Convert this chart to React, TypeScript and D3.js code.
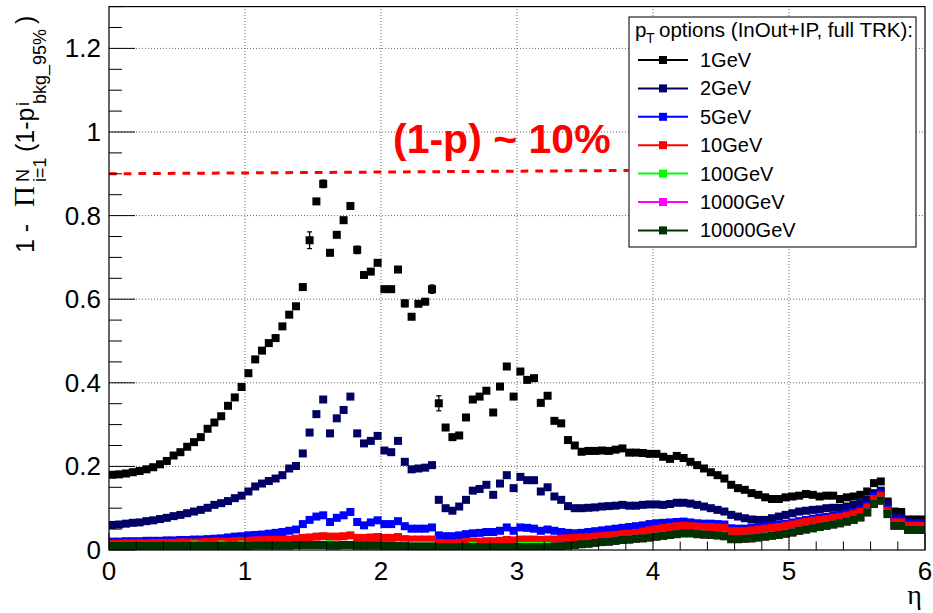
import React from 'react';
import * as d3 from 'd3';

// ---------- data ----------
const BIN_EDGES = d3.range(0, 121).map((i) => i * 0.05); // 120 bins on eta 0..6
const etaCenters = BIN_EDGES.slice(0, 120).map((e, i) => (e + BIN_EDGES[i + 1]) / 2);

const pt1GeV = [
  0.180, 0.181, 0.183, 0.186, 0.189, 0.193, 0.198, 0.205, 0.213, 0.226,
  0.234, 0.247, 0.258, 0.270, 0.290, 0.305, 0.320, 0.345, 0.365, 0.390,
  0.423, 0.456, 0.477, 0.495, 0.507, 0.535, 0.563, 0.583, 0.629, 0.741,
  0.834, 0.876, 0.711, 0.754, 0.789, 0.823, 0.718, 0.658, 0.666, 0.687,
  0.624, 0.624, 0.671, 0.590, 0.558, 0.589, 0.594, 0.624, 0.351, 0.293,
  0.270, 0.274, 0.317, 0.360, 0.367, 0.381, 0.329, 0.391, 0.439, 0.367,
  0.427, 0.407, 0.411, 0.352, 0.369, 0.309, 0.303, 0.263, 0.250, 0.235,
  0.237, 0.237, 0.238, 0.237, 0.240, 0.243, 0.233, 0.233, 0.232, 0.230,
  0.230, 0.223, 0.218, 0.225, 0.220, 0.211, 0.203, 0.195, 0.186, 0.179,
  0.171, 0.156, 0.148, 0.144, 0.136, 0.132, 0.126, 0.122, 0.122, 0.126,
  0.128, 0.130, 0.134, 0.132, 0.128, 0.130, 0.130, 0.122, 0.126, 0.128,
  0.132, 0.140, 0.160, 0.164, 0.116, 0.092, 0.091, 0.073, 0.073, 0.073,
];
const pt1GeVErr = [
  0, 0, 0, 0, 0, 0, 0, 0, 0, 0,
  0, 0, 0, 0, 0, 0, 0, 0, 0, 0,
  0, 0, 0, 0, 0, 0, 0, 0, 0, 0.02,
  0, 0.009, 0, 0, 0, 0, 0.009, 0, 0, 0,
  0, 0, 0, 0.008, 0, 0, 0, 0.01, 0.018, 0,
  0, 0, 0, 0, 0, 0.004, 0, 0, 0, 0,
  0.006, 0.004, 0, 0, 0, 0, 0, 0, 0, 0,
  0, 0, 0, 0, 0, 0, 0, 0, 0, 0,
  0, 0, 0, 0, 0, 0, 0, 0, 0, 0,
  0, 0, 0, 0, 0, 0, 0, 0, 0, 0,
  0, 0, 0, 0, 0, 0, 0, 0, 0, 0,
  0, 0, 0, 0, 0, 0, 0, 0, 0, 0,
];
const pt2GeV = [
  0.060, 0.061, 0.063, 0.065, 0.066, 0.069, 0.071, 0.074, 0.077, 0.081,
  0.084, 0.088, 0.092, 0.096, 0.101, 0.108, 0.112, 0.117, 0.124, 0.130,
  0.140, 0.152, 0.159, 0.165, 0.171, 0.179, 0.195, 0.201, 0.231, 0.281,
  0.325, 0.360, 0.279, 0.315, 0.335, 0.367, 0.279, 0.255, 0.261, 0.273,
  0.238, 0.234, 0.261, 0.211, 0.193, 0.195, 0.197, 0.203, 0.120, 0.100,
  0.094, 0.104, 0.120, 0.142, 0.146, 0.156, 0.132, 0.159, 0.179, 0.148,
  0.175, 0.167, 0.167, 0.140, 0.150, 0.128, 0.120, 0.105, 0.100, 0.100,
  0.101, 0.102, 0.104, 0.105, 0.106, 0.108, 0.106, 0.106, 0.108, 0.109,
  0.109, 0.108, 0.110, 0.113, 0.113, 0.111, 0.108, 0.104, 0.100, 0.096,
  0.092, 0.084, 0.080, 0.076, 0.073, 0.072, 0.072, 0.076, 0.080, 0.084,
  0.088, 0.092, 0.094, 0.096, 0.097, 0.100, 0.101, 0.101, 0.104, 0.108,
  0.113, 0.121, 0.136, 0.142, 0.112, 0.080, 0.078, 0.068, 0.065, 0.065,
];
const pt5GeV = [
  0.020, 0.020, 0.021, 0.021, 0.021, 0.022, 0.022, 0.022, 0.023, 0.023,
  0.024, 0.024, 0.025, 0.025, 0.026, 0.027, 0.028, 0.030, 0.032, 0.033,
  0.035, 0.036, 0.037, 0.039, 0.041, 0.043, 0.046, 0.049, 0.062, 0.072,
  0.080, 0.083, 0.067, 0.077, 0.083, 0.091, 0.067, 0.059, 0.066, 0.071,
  0.062, 0.062, 0.069, 0.057, 0.051, 0.051, 0.051, 0.054, 0.035, 0.033,
  0.033, 0.035, 0.038, 0.040, 0.041, 0.043, 0.043, 0.046, 0.054, 0.046,
  0.054, 0.053, 0.051, 0.046, 0.049, 0.046, 0.043, 0.041, 0.040, 0.041,
  0.043, 0.045, 0.047, 0.049, 0.051, 0.053, 0.055, 0.057, 0.059, 0.062,
  0.064, 0.065, 0.066, 0.067, 0.068, 0.066, 0.064, 0.063, 0.063, 0.062,
  0.061, 0.052, 0.051, 0.051, 0.053, 0.055, 0.057, 0.059, 0.061, 0.063,
  0.066, 0.069, 0.072, 0.075, 0.077, 0.079, 0.082, 0.084, 0.087, 0.091,
  0.096, 0.107, 0.128, 0.136, 0.099, 0.071, 0.071, 0.063, 0.063, 0.063,
];
const pt10GeV = [
  0.015, 0.015, 0.016, 0.016, 0.016, 0.016, 0.017, 0.017, 0.017, 0.017,
  0.018, 0.018, 0.018, 0.018, 0.019, 0.020, 0.020, 0.020, 0.021, 0.022,
  0.022, 0.023, 0.023, 0.024, 0.024, 0.024, 0.025, 0.027, 0.029, 0.030,
  0.032, 0.033, 0.032, 0.032, 0.033, 0.035, 0.029, 0.029, 0.030, 0.031,
  0.029, 0.029, 0.031, 0.026, 0.025, 0.025, 0.025, 0.025, 0.017, 0.016,
  0.016, 0.017, 0.019, 0.020, 0.020, 0.021, 0.021, 0.022, 0.024, 0.023,
  0.025, 0.025, 0.025, 0.024, 0.025, 0.025, 0.027, 0.028, 0.029, 0.030,
  0.031, 0.032, 0.033, 0.035, 0.036, 0.038, 0.039, 0.041, 0.044, 0.047,
  0.050, 0.053, 0.055, 0.057, 0.058, 0.057, 0.056, 0.055, 0.055, 0.054,
  0.053, 0.045, 0.045, 0.045, 0.047, 0.049, 0.051, 0.053, 0.055, 0.058,
  0.061, 0.064, 0.067, 0.070, 0.072, 0.074, 0.077, 0.079, 0.082, 0.086,
  0.091, 0.102, 0.122, 0.130, 0.094, 0.066, 0.066, 0.058, 0.058, 0.058,
];
const pt100GeV = [
  0.010, 0.010, 0.010, 0.010, 0.010, 0.010, 0.010, 0.010, 0.010, 0.010,
  0.010, 0.010, 0.013, 0.010, 0.010, 0.010, 0.013, 0.010, 0.010, 0.013,
  0.010, 0.011, 0.011, 0.011, 0.011, 0.011, 0.011, 0.012, 0.012, 0.012,
  0.012, 0.012, 0.014, 0.011, 0.012, 0.012, 0.011, 0.011, 0.011, 0.011,
  0.010, 0.010, 0.010, 0.011, 0.011, 0.011, 0.011, 0.011, 0.007, 0.007,
  0.007, 0.007, 0.007, 0.010, 0.007, 0.007, 0.007, 0.007, 0.007, 0.007,
  0.010, 0.010, 0.010, 0.010, 0.010, 0.008, 0.009, 0.011, 0.012, 0.014,
  0.015, 0.017, 0.019, 0.020, 0.022, 0.024, 0.025, 0.027, 0.028, 0.030,
  0.032, 0.034, 0.036, 0.038, 0.040, 0.040, 0.038, 0.037, 0.036, 0.035,
  0.033, 0.026, 0.026, 0.027, 0.028, 0.030, 0.032, 0.034, 0.036, 0.039,
  0.042, 0.046, 0.049, 0.052, 0.055, 0.058, 0.061, 0.064, 0.068, 0.072,
  0.078, 0.090, 0.110, 0.118, 0.086, 0.058, 0.058, 0.048, 0.048, 0.048,
];
const pt1000GeV = [
  0.010, 0.010, 0.010, 0.010, 0.010, 0.010, 0.010, 0.010, 0.010, 0.010,
  0.010, 0.010, 0.010, 0.012, 0.010, 0.010, 0.010, 0.010, 0.010, 0.010,
  0.010, 0.011, 0.011, 0.011, 0.011, 0.011, 0.011, 0.012, 0.012, 0.012,
  0.012, 0.012, 0.011, 0.011, 0.012, 0.012, 0.011, 0.011, 0.011, 0.011,
  0.010, 0.010, 0.010, 0.009, 0.008, 0.008, 0.008, 0.008, 0.007, 0.007,
  0.007, 0.007, 0.007, 0.007, 0.007, 0.007, 0.007, 0.007, 0.007, 0.007,
  0.007, 0.007, 0.007, 0.007, 0.007, 0.008, 0.009, 0.011, 0.012, 0.014,
  0.015, 0.017, 0.019, 0.020, 0.022, 0.024, 0.025, 0.027, 0.028, 0.030,
  0.032, 0.034, 0.036, 0.038, 0.040, 0.040, 0.038, 0.037, 0.036, 0.035,
  0.033, 0.026, 0.026, 0.027, 0.028, 0.030, 0.032, 0.034, 0.036, 0.039,
  0.042, 0.046, 0.049, 0.052, 0.055, 0.058, 0.061, 0.064, 0.068, 0.072,
  0.078, 0.090, 0.110, 0.118, 0.086, 0.058, 0.058, 0.048, 0.048, 0.048,
];
const pt10000GeV = [
  0.010, 0.010, 0.010, 0.010, 0.010, 0.010, 0.010, 0.010, 0.010, 0.010,
  0.010, 0.010, 0.010, 0.010, 0.010, 0.010, 0.010, 0.010, 0.010, 0.010,
  0.010, 0.011, 0.011, 0.011, 0.011, 0.011, 0.011, 0.012, 0.012, 0.012,
  0.012, 0.012, 0.011, 0.011, 0.012, 0.012, 0.011, 0.011, 0.011, 0.011,
  0.010, 0.010, 0.010, 0.009, 0.008, 0.008, 0.008, 0.008, 0.007, 0.007,
  0.007, 0.007, 0.007, 0.007, 0.007, 0.007, 0.007, 0.007, 0.007, 0.007,
  0.007, 0.007, 0.007, 0.007, 0.007, 0.008, 0.009, 0.011, 0.012, 0.014,
  0.015, 0.017, 0.019, 0.020, 0.022, 0.024, 0.025, 0.027, 0.028, 0.030,
  0.032, 0.034, 0.036, 0.038, 0.040, 0.040, 0.038, 0.037, 0.036, 0.035,
  0.033, 0.026, 0.026, 0.027, 0.028, 0.030, 0.032, 0.034, 0.036, 0.039,
  0.042, 0.046, 0.049, 0.052, 0.055, 0.058, 0.061, 0.064, 0.068, 0.072,
  0.078, 0.090, 0.110, 0.118, 0.086, 0.058, 0.058, 0.048, 0.048, 0.048,
];

const seriesLabels = ['1GeV', '2GeV', '5GeV', '10GeV', '100GeV', '1000GeV', '10000GeV'];
const seriesValues = [pt1GeV, pt2GeV, pt5GeV, pt10GeV, pt100GeV, pt1000GeV, pt10000GeV];
const seriesColors = ['#000000', '#000066', '#0000ff', '#ff0000', '#00ff00', '#ff00ff', '#003300'];

const xTicksMajor = [0, 1, 2, 3, 4, 5, 6];
const yTicksMajor = [0, 0.2, 0.4, 0.6, 0.8, 1, 1.2];
const yTickLabels = ['0', '0.2', '0.4', '0.6', '0.8', '1', '1.2'];
const thresholdEta = [0, 3.82];
const thresholdVal = [0.9, 0.908];
const legendHeader = 'options (InOut+IP, full TRK):';
const annotation = '(1-p) ~ 10%';

// ---------- layout ----------
const W = 933, H = 613;
const X0 = 109, X1 = 925, Y0 = 550, Y1 = 6.6;
const FONT = '"Liberation Sans", Arial, Helvetica, sans-serif';
const SERIF = '"Liberation Serif", "DejaVu Serif", serif';

export default function App() {
  const xs = d3.scaleLinear().domain([0, 6]).range([X0, X1]);
  const ys = d3.scaleLinear().domain([0, 1.3]).range([Y0, Y1]);
  const xMinor = d3.range(0, 6.0001, 0.2);
  const yMinor = d3.range(0, 1.3001, 0.05);
  const M = 8;

  const legendX = 629, legendY = 17, legendW = 287, legendH = 230;
  const rowY = (i: number) => 60 + i * 28.4;

  return (
    <svg width={W} height={H} style={{ position: 'absolute', left: 0, top: 0, background: '#fff' }}
      fontFamily={FONT}>
      <defs>
        <clipPath id="frame">
          <rect x={X0} y={Y1} width={X1 - X0} height={Y0 - Y1} />
        </clipPath>
      </defs>
      <rect x={0} y={0} width={W} height={H} fill="#fff" />

      {/* grid */}
      {xTicksMajor.slice(1, -1).map((t) => (
        <line key={'gx' + t} x1={xs(t)} x2={xs(t)} y1={Y0} y2={Y1} stroke="#666" strokeDasharray="1 2" strokeWidth={1} />
      ))}
      {yTicksMajor.slice(1).map((t) => (
        <line key={'gy' + t} x1={X0} x2={X1} y1={ys(t)} y2={ys(t)} stroke="#666" strokeDasharray="1 2" strokeWidth={1} />
      ))}

      {/* data */}
      <g clipPath="url(#frame)">
        {seriesValues.map((vals, si) => (
          <g key={si} fill={seriesColors[si]} stroke={seriesColors[si]}>
            {vals.map((v, i) => {
              const cx = xs(etaCenters[i]);
              const cy = ys(v);
              const err = si === 0 ? pt1GeVErr[i] : 0;
              return (
                <g key={i}>
                  <line x1={xs(BIN_EDGES[i])} x2={xs(BIN_EDGES[i + 1])} y1={cy} y2={cy} strokeWidth={1} />
                  {err > 0 && (
                    <g strokeWidth={1.3}>
                      <line x1={cx} x2={cx} y1={ys(v - err)} y2={ys(v + err)} />
                      <line x1={cx - 2.5} x2={cx + 2.5} y1={ys(v - err)} y2={ys(v - err)} />
                      <line x1={cx - 2.5} x2={cx + 2.5} y1={ys(v + err)} y2={ys(v + err)} />
                    </g>
                  )}
                  <rect x={cx - M / 2} y={cy - M / 2} width={M} height={M} stroke="none" />
                </g>
              );
            })}
          </g>
        ))}
      </g>

      {/* threshold line */}
      <line x1={xs(thresholdEta[0])} x2={xs(thresholdEta[1])} y1={ys(thresholdVal[0])} y2={ys(thresholdVal[1])}
        stroke="#ff0000" strokeWidth={3} strokeDasharray="7.7 7" />
      <text x={393} y={153} fill="#ff0000" fontSize={41} fontWeight="bold">{annotation}</text>

      {/* frame */}
      <rect x={X0} y={Y1} width={X1 - X0} height={Y0 - Y1} fill="none" stroke="#000" strokeWidth={1.2} />

      {/* ticks */}
      {yMinor.map((t, i) => {
        const major = i % 4 === 0;
        return <line key={'ty' + i} x1={X0} x2={X0 + (major ? 26 : 13)} y1={ys(t)} y2={ys(t)} stroke="#000" strokeWidth={1} />;
      })}
      {xMinor.map((t, i) => {
        const major = i % 5 === 0;
        return <line key={'tx' + i} x1={xs(t)} x2={xs(t)} y1={Y0} y2={Y0 - (major ? 17 : 8.5)} stroke="#000" strokeWidth={1} />;
      })}

      {/* tick labels */}
      {yTicksMajor.map((t, i) => (
        <text key={'ly' + i} x={101} y={ys(t) + 9} textAnchor="end" fontSize={26}>{yTickLabels[i]}</text>
      ))}
      {xTicksMajor.map((t) => (
        <text key={'lx' + t} x={xs(t)} y={580} textAnchor="middle" fontSize={26}>{t}</text>
      ))}

      {/* axis titles */}
      <text x={922} y={604} textAnchor="end" fontSize={28} fontFamily={SERIF}>η</text>
      <g transform="rotate(-90)">
        <text x={-253} y={34} fontSize={25}>1 -</text>
        <text x={-207} y={34} fontSize={29} fontFamily={SERIF}>Π</text>
        <text x={-182} y={29} fontSize={18}>N</text>
        <text x={-182} y={46} fontSize={18}>i=1</text>
        <text x={-152} y={34} fontSize={25}>(1-p</text>
        <text x={-106} y={29} fontSize={18}>i</text>
        <text x={-104} y={46} fontSize={18}>bkg_95%</text>
        <text x={-24} y={34} fontSize={25}>)</text>
      </g>

      {/* legend */}
      <rect x={legendX} y={legendY} width={legendW} height={legendH} fill="#fff" stroke="#222" strokeWidth={1.2} />
      <text x={635} y={37} fontSize={20.5}>p</text>
      <text x={646} y={43} fontSize={14}>T</text>
      <text x={659} y={37} fontSize={20.5}>{legendHeader}</text>
      {seriesLabels.map((lab, i) => (
        <g key={'lg' + i}>
          <line x1={638} x2={688} y1={rowY(i)} y2={rowY(i)} stroke={seriesColors[i]} strokeWidth={2} />
          <rect x={663 - M / 2} y={rowY(i) - M / 2} width={M} height={M} fill={seriesColors[i]} />
          <text x={700} y={rowY(i) + 7} fontSize={20}>{lab}</text>
        </g>
      ))}
    </svg>
  );
}
